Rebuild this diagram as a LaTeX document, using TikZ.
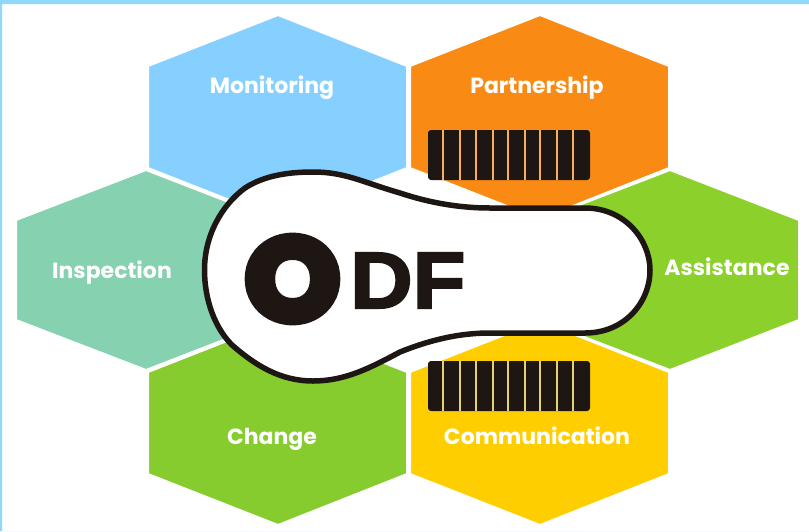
\documentclass[tikz,border=0pt]{standalone}
\usepackage{fontspec}
\setmainfont{Poppins}
\newfontfamily\logofont[BoldFeatures={FakeBold=2.5}]{Liberation Sans}
\newfontfamily\logoO[BoldFeatures={FakeBold=8}]{Poppins}
\definecolor{frameblue}{HTML}{8FD8FA}
\definecolor{monblue}{HTML}{86D0FF}
\definecolor{partorange}{HTML}{F98A14}
\definecolor{insteal}{HTML}{85D1B0}
\definecolor{assgreen}{HTML}{8CD02C}
\definecolor{chagreen}{HTML}{86CC2F}
\definecolor{comyellow}{HTML}{FFCE00}
\definecolor{inkdark}{HTML}{1E1612}
\tikzset{
  hexlabel/.style={text=white,font=\fontsize{22}{24}\selectfont\bfseries,inner sep=0pt,anchor=base},
  barbox/.style={fill=inkdark,rounded corners=3pt},
  bargap/.style={line width=1.3pt},
  logoletter/.style={text=inkdark,inner sep=0pt}
}
\newcommand{\hexat}[4]{\filldraw[fill=#3,draw=white,line width=2pt,line join=round] (#1-130,#2-#4/2) -- (#1,#2-#4) -- (#1+129,#2-#4/2) -- (#1+129,#2+#4/2) -- (#1,#2+#4) -- (#1-130,#2+#4/2) -- cycle;}
\begin{document}
\begin{tikzpicture}[x=1pt,y=-1pt]
\useasboundingbox (0,0) rectangle (809,531);
\fill[white] (0,0) rectangle (809,531);
\fill[frameblue,even odd rule] (0,0) rectangle (809,531) (2,4) rectangle (809,531);
\hexat{278}{117}{monblue}{102}
\hexat{540}{117}{partorange}{102}
\hexat{146}{270}{insteal}{100}
\hexat{670}{270}{assgreen}{100}
\hexat{278}{423}{chagreen}{102}
\hexat{540}{423}{comyellow}{102}
\fill[barbox] (428,130) rectangle (590,180);
\foreach \x in {443,460,476,493,508,525,540,557,573} \draw[bargap,draw=partorange!70!white] (\x,130) -- (\x,180);
\fill[barbox] (428,361) rectangle (590,411);
\foreach \x in {443,460,476,493,508,525,540,557,573} \draw[bargap,draw=comyellow!55!white!80!gray] (\x,361) -- (\x,411);
\draw[line width=5.5pt,draw=inkdark,fill=white,line join=round]
  (313,172) .. controls (345,172) and (362,182) .. (400,193)
  .. controls (430,203) and (460,208) .. (490,208)
  -- (585,208) .. controls (625,208) and (650,240) .. (650,270)
  .. controls (650,302) and (625,333) .. (585,333)
  -- (490,333) .. controls (455,333) and (425,342) .. (400,352)
  .. controls (370,368) and (345,381) .. (313,381)
  .. controls (280,381) and (255,365) .. (232,345)
  .. controls (215,328) and (204.5,300) .. (204.5,270)
  .. controls (204.5,235) and (222,205) .. (245,188)
  .. controls (265,175) and (290,172) .. (313,172) -- cycle;
\node[hexlabel] (monitoring) at (272,93) {Monitoring};
\node[hexlabel] (partnership) at (537,93) {Partnership};
\node[hexlabel] (inspection) at (112,278) {Inspection};
\node[hexlabel] (assistance) at (727,275) {Assistance};
\node[hexlabel] (change) at (272,444) {Change};
\node[hexlabel] (communication) at (537,444) {Communication};
\node[logoletter,font=\fontsize{116}{116}\selectfont\logoO\bfseries,xscale=1.03] (logoo) at (292.5,279) {O};
\node[logoletter,font=\fontsize{80}{80}\selectfont\logofont\bfseries,anchor=base west,xscale=1.08] (logodf) at (350,308) {DF};
\end{tikzpicture}
\end{document}
